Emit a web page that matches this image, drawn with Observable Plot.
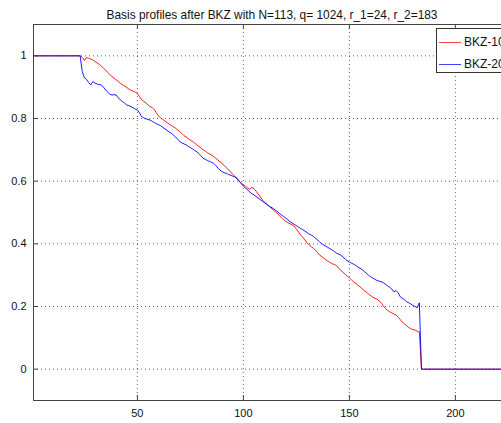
<!DOCTYPE html>
<html><head><meta charset="utf-8">
<script src="https://cdn.jsdelivr.net/npm/d3@7"></script>
<script src="https://cdn.jsdelivr.net/npm/@observablehq/plot@0.6"></script>
<style>
html,body{margin:0;padding:0;background:#fff;overflow:hidden;}
#wrap{position:relative;width:501px;height:423px;overflow:hidden;font-family:"Liberation Sans",Arial,sans-serif;}
#wrap svg{display:block;max-width:none !important;width:512px !important;height:423px !important;}
#legend{position:absolute;left:436px;top:28px;width:100px;height:45px;border:1px solid #333;background:#fff;box-sizing:border-box;font-size:12px;color:#111;}
.lg{position:absolute;left:0;height:14px;}
.lg .sw{position:absolute;left:2px;top:7px;width:22px;height:1px;}
.lg .tx{position:absolute;left:27px;top:0;line-height:14px;white-space:nowrap;}
</style></head>
<body>
<div id="wrap"><div id="chart"></div>
<div id="legend"></div></div>
<script>
const title = "Basis profiles after BKZ with N=113, q= 1024, r_1=24, r_2=183";
const seriesNames = ["BKZ-10", "BKZ-20"];
const seriesColors = ["#ff0000", "#0000ff"];
const xTicks = [50, 100, 150, 200];
const yTicks = [0, 0.2, 0.4, 0.6, 0.8, 1];

// indices 1..23 (flat at 1)
const headValues = [1,1,1,1,1,1,1,1,1,1,1,1,1,1,1,1,1,1,1,1,1,1,1];
// indices 184..226 (flat at 0)
const tailValues = [0,0,0,0,0,0,0,0,0,0,0,0,0,0,0,0,0,0,0,0,0,0,0,0,0,0,0,0,0,0,0,0,0,0,0,0,0,0,0,0,0,0,0];

// BKZ-10, indices 24..183
const bkz10 = [
0.995,0.985,0.995,0.992,0.990,0.987,0.982,0.977,0.973,0.967,
0.961,0.955,0.947,0.940,0.934,0.929,0.923,0.918,0.912,0.908,
0.903,0.899,0.894,0.890,0.887,0.884,0.880,0.870,0.860,0.855,
0.850,0.843,0.838,0.835,0.828,0.818,0.808,0.801,0.797,0.792,
0.787,0.782,0.778,0.774,0.769,0.763,0.758,0.752,0.745,0.741,
0.736,0.731,0.727,0.722,0.716,0.711,0.706,0.700,0.696,0.691,
0.687,0.683,0.678,0.673,0.667,0.662,0.656,0.650,0.643,0.636,
0.629,0.622,0.615,0.609,0.600,0.594,0.588,0.584,0.578,0.574,
0.580,0.576,0.568,0.559,0.550,0.540,0.533,0.527,0.521,0.515,
0.509,0.503,0.497,0.490,0.483,0.477,0.472,0.468,0.464,0.461,
0.456,0.447,0.438,0.428,0.421,0.413,0.403,0.397,0.391,0.386,
0.380,0.372,0.364,0.359,0.354,0.349,0.344,0.340,0.336,0.334,
0.330,0.322,0.315,0.309,0.303,0.297,0.291,0.285,0.279,0.274,
0.268,0.263,0.257,0.251,0.246,0.240,0.235,0.230,0.226,0.224,
0.218,0.212,0.202,0.194,0.188,0.183,0.180,0.176,0.173,0.166,
0.158,0.150,0.144,0.139,0.133,0.129,0.126,0.125,0.121,0.119
];
// BKZ-20, indices 24..183
const bkz20 = [
0.950,0.930,0.925,0.915,0.907,0.918,0.913,0.910,0.908,0.907,
0.900,0.891,0.884,0.877,0.875,0.876,0.875,0.866,0.859,0.854,
0.849,0.843,0.841,0.838,0.834,0.830,0.827,0.818,0.806,0.802,
0.799,0.797,0.795,0.791,0.787,0.783,0.780,0.777,0.772,0.767,
0.762,0.757,0.753,0.747,0.741,0.734,0.726,0.722,0.719,0.716,
0.711,0.707,0.703,0.698,0.694,0.688,0.681,0.673,0.670,0.666,
0.663,0.660,0.657,0.650,0.642,0.635,0.630,0.627,0.625,0.621,
0.619,0.616,0.613,0.609,0.600,0.592,0.584,0.578,0.572,0.566,
0.560,0.556,0.551,0.546,0.541,0.536,0.531,0.526,0.521,0.517,
0.513,0.508,0.503,0.497,0.492,0.487,0.482,0.477,0.471,0.466,
0.462,0.458,0.453,0.449,0.445,0.441,0.436,0.431,0.428,0.424,
0.418,0.412,0.406,0.400,0.396,0.392,0.388,0.384,0.380,0.375,
0.370,0.367,0.364,0.358,0.352,0.346,0.342,0.338,0.335,0.331,
0.326,0.322,0.318,0.312,0.306,0.300,0.295,0.291,0.287,0.283,
0.281,0.279,0.276,0.271,0.266,0.261,0.256,0.247,0.251,0.244,
0.231,0.226,0.222,0.215,0.212,0.208,0.203,0.200,0.196,0.212
];

function profile(mid) {
  const vals = headValues.concat(mid, tailValues);
  return vals.map((v, k) => ({i: k + 1, v}));
}
const data10 = profile(bkz10);
const data20 = profile(bkz20);

const W = 512, H = 423, mt = 24, mb = 23, ml = 33, mr = 2;
const innerH = H - mt - mb, innerW = W - ml - mr;
const grid = {stroke: "#000", strokeOpacity: 0.6, strokeDasharray: "1,3", strokeWidth: 1};
const tickStyle = {stroke: "#444", strokeWidth: 1};

const chart = Plot.plot({
  width: W, height: H,
  marginTop: mt, marginBottom: mb, marginLeft: ml, marginRight: mr,
  x: {domain: [1, 226]},
  y: {domain: [-0.1, 1.1]},
  style: {fontFamily: "'Liberation Sans', Arial, sans-serif", fontSize: "11px", color: "#111", background: "#fff"},
  marks: [
    Plot.gridX(xTicks, grid),
    Plot.gridY(yTicks, grid),
    Plot.line(data10, {x: "i", y: "v", stroke: seriesColors[0], strokeWidth: 0.9}),
    Plot.line(data20, {x: "i", y: "v", stroke: seriesColors[1], strokeWidth: 0.9}),
    Plot.tickX(xTicks, {x: d => d, insetTop: innerH - 5, ...tickStyle}),
    Plot.tickX(xTicks, {x: d => d, insetBottom: innerH - 5, ...tickStyle}),
    Plot.tickY(yTicks, {y: d => d, insetRight: innerW - 5, ...tickStyle}),
    Plot.tickY(yTicks, {y: d => d, insetLeft: innerW - 5, ...tickStyle}),
    Plot.frame({stroke: "#444", strokeWidth: 1}),
    Plot.axisX(xTicks, {tickSize: 0, tickPadding: 9, label: null, fontSize: 11}),
    Plot.axisY(yTicks, {tickSize: 0, tickPadding: 7, label: null, fontSize: 11, tickFormat: d => String(d)}),
    Plot.text([title], {frameAnchor: "top", dy: -14, fontSize: 11.9, fill: "#111"})
  ]
});
document.getElementById("chart").appendChild(chart);

const lg = document.getElementById("legend");
seriesNames.forEach((name, k) => {
  const row = document.createElement("div");
  row.className = "lg";
  row.style.top = (6 + k * 22) + "px";
  row.innerHTML = `<div class="sw" style="background:${seriesColors[k]};opacity:0.75"></div><div class="tx">${name}</div>`;
  lg.appendChild(row);
});
</script>
</body></html>
